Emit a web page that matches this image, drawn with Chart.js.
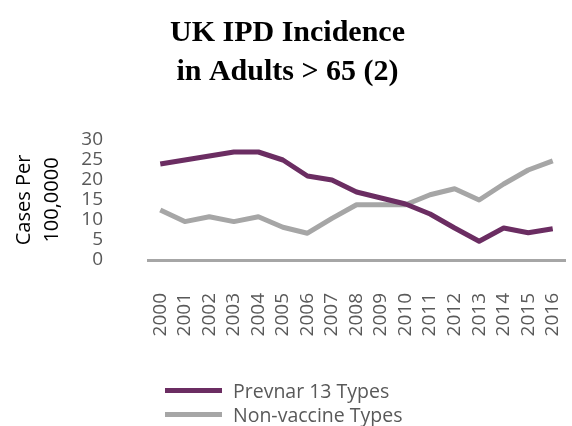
<!DOCTYPE html>
<html>
<head>
<meta charset="utf-8">
<script src="https://cdn.jsdelivr.net/npm/chart.js@4"></script>
<style>
  html, body { margin: 0; padding: 0; background: #fff; }
  #wrap { position: relative; width: 572px; height: 426px; }
  #legend { position: absolute; left: 165px; top: 378px; font-family: "Open Sans", sans-serif; font-size: 19.5px; color: #595959; }
  .item { display: flex; align-items: center; height: 24px; }
  .swatch { width: 57px; height: 5px; margin-right: 11px; }
</style>
</head>
<body>
<div id="wrap">
  <canvas id="ipdChart" width="572" height="426"></canvas>
  <div id="legend"></div>
</div>
<script>
const years = ['2000', '2001', '2002', '2003', '2004', '2005', '2006', '2007', '2008',
               '2009', '2010', '2011', '2012', '2013', '2014', '2015', '2016'];
const prevnar13 = [24, 25, 26, 27, 27, 25, 21, 20, 17, 15.5, 14, 11.5, 8, 4.7, 8, 6.8, 7.8];
const nonVaccine = [12.5, 9.6, 10.8, 9.6, 10.8, 8.2, 6.7, 10.4, 13.8, 13.8, 13.8, 16.3, 17.8, 15, 19, 22.5, 24.8];
const seriesNames = ['Prevnar 13 Types', 'Non-vaccine Types'];
const seriesColors = ['#6b2d62', '#a6a6a6'];

const tickFont = { family: '"Open Sans", sans-serif', size: 19 };

const chart = new Chart(document.getElementById('ipdChart'), {
    type: 'line',
    data: {
        labels: years,
        datasets: [
            {
                label: seriesNames[0],
                data: prevnar13,
                borderColor: seriesColors[0],
                backgroundColor: seriesColors[0],
                borderWidth: 5,
                pointRadius: 0,
                tension: 0,
                borderJoinStyle: 'round'
            },
            {
                label: seriesNames[1],
                data: nonVaccine,
                borderColor: seriesColors[1],
                backgroundColor: seriesColors[1],
                borderWidth: 5,
                pointRadius: 0,
                tension: 0,
                borderJoinStyle: 'round'
            }
        ]
    },
    options: {
        responsive: false,
        animation: false,
        layout: { padding: { left: 10, right: 7, top: 0, bottom: 0 } },
        plugins: {
            legend: { display: false },
            tooltip: { enabled: false },
            title: {
                display: true,
                text: ['UK IPD Incidence', 'in Adults > 65 (2)'],
                color: '#000',
                font: { family: '"Liberation Serif", serif', size: 30, weight: 'bold', lineHeight: 1.3 },
                padding: { top: 14, bottom: 48 }
            }
        },
        scales: {
            x: {
                offset: true,
                grid: { display: false },
                border: { display: true, color: '#a6a6a6', width: 3 },
                ticks: {
                    color: '#595959',
                    font: tickFont,
                    minRotation: 90,
                    maxRotation: 90,
                    padding: 25,
                    autoSkip: false
                },
                afterFit: (scale) => {
                    scale.height = 166;
                    // rotated labels need no side room
                    scale.paddingLeft = 0;
                    scale.paddingRight = 0;
                }
            },
            y: {
                min: 0,
                max: 30,
                grid: { display: false, drawTicks: false },
                border: { display: false },
                ticks: {
                    stepSize: 5,
                    autoSkip: false,
                    color: '#595959',
                    font: tickFont,
                    padding: 45
                },
                title: {
                    display: true,
                    text: ['Cases Per', '100,0000'],
                    color: '#000',
                    font: { family: '"Open Sans", sans-serif', size: 20, lineHeight: 1.4 },
                    padding: { top: 0, bottom: 0 }
                },
                afterFit: (scale) => { scale.width = 138; }
            }
        }
    }
});

// legend stacked vertically under the axis labels
const legendBox = document.getElementById('legend');
chart.data.datasets.forEach(ds => {
    legendBox.innerHTML += `
        <div class="item">
            <span class="swatch" style="background:${ds.borderColor}"></span>
            <span>${ds.label}</span>
        </div>`;
});
</script>
</body>
</html>
